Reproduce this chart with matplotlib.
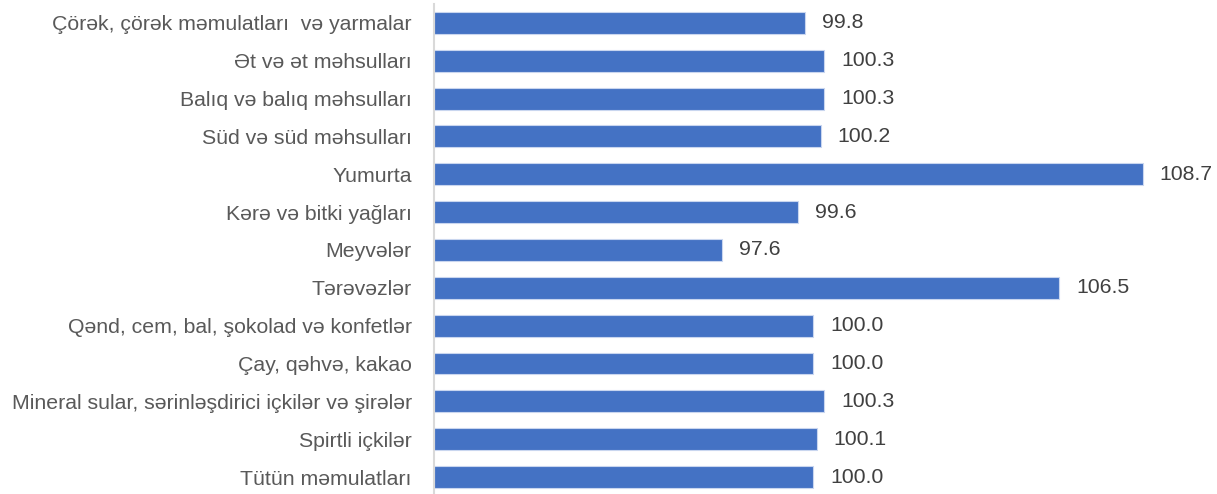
import matplotlib
matplotlib.use("Agg")
import matplotlib.pyplot as plt

plt.rcParams['font.family'] = ['Liberation Sans', 'DejaVu Sans']

categories = [
    "Çörək, çörək məmulatları  və yarmalar",
    "Ət və ət məhsulları",
    "Balıq və balıq məhsulları",
    "Süd və süd məhsulları",
    "Yumurta",
    "Kərə və bitki yağları",
    "Meyvələr",
    "Tərəvəzlər",
    "Qənd, cem, bal, şokolad və konfetlər",
    "Çay, qəhvə, kakao",
    "Mineral sular, sərinləşdirici içkilər və şirələr",
    "Spirtli içkilər",
    "Tütün məmulatları",
]
values = [99.8, 100.3, 100.3, 100.2, 108.7, 99.6, 97.6, 106.5, 100.0, 100.0, 100.3, 100.1, 100.0]
value_labels = ["99.8", "100.3", "100.3", "100.2", "108.7", "99.6", "97.6", "106.5",
                "100.0", "100.0", "100.3", "100.1", "100.0"]

x_min, x_max = 90, 110

fig = plt.figure(figsize=(12.17, 4.94), dpi=100)
ax = fig.add_axes([0.3566, -0.004, 0.6229, 0.996])

y = list(range(len(categories)))
left = [x_min] * len(values)
widths = [v - x_min for v in values]
ax.barh(y, widths, left=left, height=0.58, color="#4472C4",
        edgecolor="#c9d6ef", linewidth=0.8)

ax.set_xlim(x_min, x_max)
ax.set_ylim(len(categories) - 0.5, -0.5)
ax.set_yticks(y)
ax.set_yticklabels(categories, fontsize=15.3, color="#595959")
ax.tick_params(axis='y', length=0, pad=16)
ax.set_xticks([])

for s in ["top", "right", "bottom"]:
    ax.spines[s].set_visible(False)
ax.spines["left"].set_color("#d9d9d9")
ax.spines["left"].set_linewidth(1.5)

for yi, v, lab in zip(y, values, value_labels):
    ax.text(v + 0.45, yi, lab, va="center", ha="left", fontsize=15.3,
            color="#404040", clip_on=False)

fig.savefig("out.png", dpi=100)
